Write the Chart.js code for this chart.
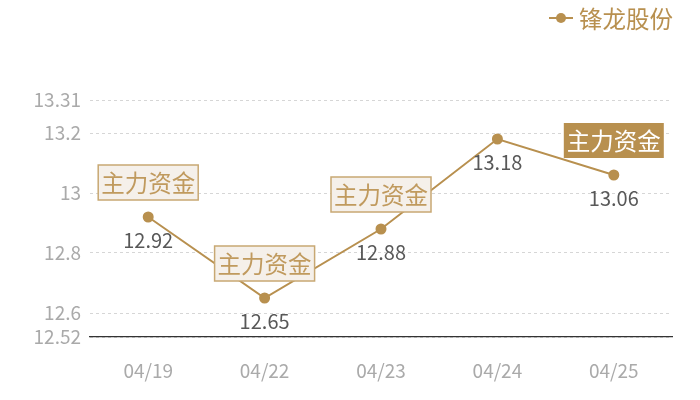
<!DOCTYPE html>
<html>
<head>
<meta charset="utf-8">
<script src="https://cdn.jsdelivr.net/npm/chart.js@4"></script>
<style>
  html, body { margin: 0; padding: 0; background: #fff; }
  #wrap { width: 700px; height: 400px; }
</style>
</head>
<body>
<div id="wrap"><canvas id="price-chart"></canvas></div>
<script>
const seriesName = "锋龙股份"
const days = ["04/19", "04/22", "04/23", "04/24", "04/25"]
const closes = [12.92, 12.65, 12.88, 13.18, 13.06]
const flags = ["主力资金", "主力资金", "主力资金", "", "主力资金"]
const yTicks = [12.52, 12.6, 12.8, 13, 13.2, 13.31]

const gold = "#b8904f"
const font = "'Noto Sans CJK SC', 'Noto Sans', sans-serif"

// boxes above points, value labels under them, legend top right
const markPlugin = {
    id: "marks",
    afterDatasetsDraw(chart) {
        const ctx = chart.ctx
        const meta = chart.getDatasetMeta(0)
        ctx.save()
        ctx.textAlign = "center"
        ctx.textBaseline = "middle"
        meta.data.forEach((pt, i) => {
            ctx.font = "20px " + font
            ctx.fillStyle = "#585858"
            ctx.fillText(String(closes[i]), pt.x, pt.y + 23)
            if (!flags[i]) return
            let w = 100, h = 35
            let x = pt.x - w / 2, y = pt.y - 17 - h
            let last = i == closes.length - 1
            ctx.fillStyle = last ? gold : "#f5f0ea"
            ctx.fillRect(x, y, w, h)
            if (!last) {
                ctx.strokeStyle = "#c8a873"
                ctx.lineWidth = 1.5
                ctx.strokeRect(x, y, w, h)
            }
            ctx.font = "23.5px " + font
            ctx.fillStyle = last ? "#fff" : "#c09a5e"
            ctx.fillText(flags[i], pt.x, y + h / 2 + 1)
        })

        // legend
        let ly = 18
        ctx.strokeStyle = gold
        ctx.lineWidth = 2
        ctx.beginPath()
        ctx.moveTo(549, ly)
        ctx.lineTo(573, ly)
        ctx.stroke()
        ctx.fillStyle = gold
        ctx.beginPath()
        ctx.arc(561, ly, 5, 0, Math.PI * 2)
        ctx.fill()
        ctx.font = "23.5px " + font
        ctx.textAlign = "left"
        ctx.fillText(seriesName, 579, ly + 1)
        ctx.restore()
    }
}

new Chart(document.getElementById("price-chart"), {
    type: "line",
    data: {
        labels: days,
        datasets: [{
            label: seriesName,
            data: closes,
            borderColor: gold,
            backgroundColor: gold,
            borderWidth: 2,
            pointRadius: 4.5,
            pointHoverRadius: 4.5,
            tension: 0
        }]
    },
    options: {
        responsive: true,
        maintainAspectRatio: false,
        animation: false,
        layout: { padding: { top: 100, right: 28, left: 0, bottom: 0 } },
        plugins: {
            legend: { display: false },
            tooltip: { enabled: false }
        },
        scales: {
            x: {
                offset: true,
                grid: { display: false },
                border: { display: true, color: "#333", width: 1.2 },
                ticks: {
                    color: "#aaa",
                    padding: 14,
                    font: { size: 19, family: font }
                },
                afterFit: s => { s.height = 63 }
            },
            y: {
                min: 12.52,
                max: 13.31,
                afterBuildTicks: s => { s.ticks = yTicks.map(v => ({ value: v })) },
                afterFit: s => { s.width = 90 },
                grid: { color: "#d6d6d6", drawTicks: false },
                border: { display: false, dash: [3, 3] },
                ticks: {
                    color: "#aaa",
                    padding: 9,
                    font: { size: 19, family: font },
                    callback: v => String(v)
                }
            }
        }
    },
    plugins: [markPlugin]
})
</script>
</body>
</html>
